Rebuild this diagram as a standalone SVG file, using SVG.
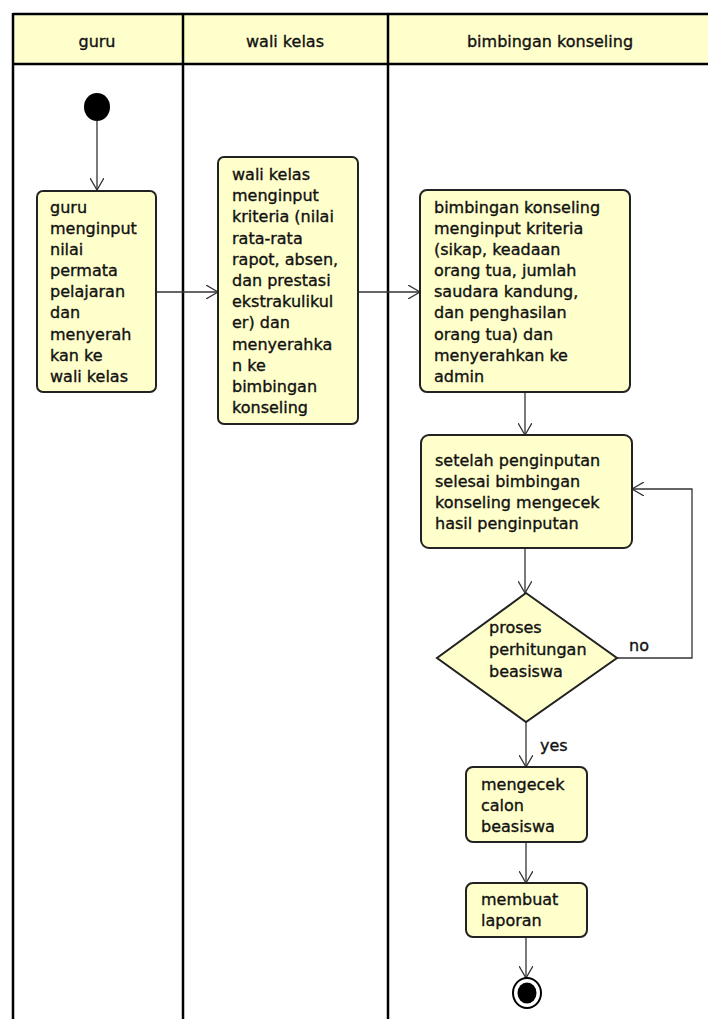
<svg xmlns="http://www.w3.org/2000/svg" width="708" height="1019" viewBox="0 0 708 1019">
  <style>
    text { font-family: "DejaVu Sans", "Liberation Sans", sans-serif; font-size: 16px; fill: #111; stroke: #111; stroke-width: 0.35; }
    .hdr { text-anchor: middle; }
    .lane { stroke: #000; stroke-width: 2.5; fill: none; }
    .act { fill: #FFFFCC; stroke: #222; stroke-width: 2; }
    .flow { stroke: #333; stroke-width: 1.3; fill: none; marker-end: url(#open); }
  </style>
  <defs>
    <marker id="open" markerUnits="userSpaceOnUse" viewBox="0 0 12 14" refX="12" refY="7" markerWidth="12" markerHeight="14" orient="auto">
      <path d="M0,0 L12,7 L0,14" fill="none" stroke="#333" stroke-width="1.3"/>
    </marker>
  </defs>

  <rect width="708" height="1019" fill="#fff"/>

  <!-- swimlane header and lane separators -->
  <g id="lanes">
    <rect x="13" y="14" width="700" height="50" fill="#FFFFCC"/>
    <line class="lane" x1="13" y1="14" x2="708" y2="14"/>
    <line class="lane" x1="13" y1="64" x2="708" y2="64"/>
    <line class="lane" x1="13" y1="13" x2="13" y2="1019"/>
    <line class="lane" x1="183" y1="13" x2="183" y2="1019"/>
    <line class="lane" x1="388" y1="13" x2="388" y2="1019"/>
    <text class="hdr" x="97" y="47">guru</text>
    <text class="hdr" x="285" y="47">wali kelas</text>
    <text class="hdr" x="550" y="47">bimbingan konseling</text>
  </g>

  <!-- control flow -->
  <g id="connectors">
    <path class="flow" d="M97,121 L97,190"/>
    <path class="flow" d="M156,292 L218,292"/>
    <path class="flow" d="M358,292 L420,292"/>
    <path class="flow" d="M525,392 L525,435"/>
    <path class="flow" d="M525,548 L525,593"/>
    <path class="flow" d="M617,658 L692,658 L692,489 L632,489"/>
    <path class="flow" d="M526,722 L526,767"/>
    <path class="flow" d="M526,842 L526,883"/>
    <path class="flow" d="M526,937 L526,978"/>
    <text x="629" y="651">no</text>
    <text x="540" y="751">yes</text>
  </g>

  <g id="start">
    <ellipse cx="97" cy="107" rx="13" ry="14" fill="#000"/>
  </g>

  <g id="guru-input">
    <rect class="act" x="37" y="191" width="119" height="201" rx="6"/>
    <text x="50">
      <tspan x="50" y="213">guru</tspan>
      <tspan x="50" y="234">menginput</tspan>
      <tspan x="50" y="255">nilai</tspan>
      <tspan x="50" y="276">permata</tspan>
      <tspan x="50" y="297">pelajaran</tspan>
      <tspan x="50" y="318">dan</tspan>
      <tspan x="50" y="340">menyerah</tspan>
      <tspan x="50" y="361">kan ke</tspan>
      <tspan x="50" y="382">wali kelas</tspan>
    </text>
  </g>

  <g id="wali-input">
    <rect class="act" x="218" y="157" width="140" height="267" rx="6"/>
    <text>
      <tspan x="232" y="180">wali kelas</tspan>
      <tspan x="232" y="201">menginput</tspan>
      <tspan x="232" y="222">kriteria (nilai</tspan>
      <tspan x="232" y="244">rata-rata</tspan>
      <tspan x="232" y="265">rapot, absen,</tspan>
      <tspan x="232" y="286">dan prestasi</tspan>
      <tspan x="232" y="307">ekstrakulikul</tspan>
      <tspan x="232" y="328">er) dan</tspan>
      <tspan x="232" y="350">menyerahka</tspan>
      <tspan x="232" y="371">n ke</tspan>
      <tspan x="232" y="392">bimbingan</tspan>
      <tspan x="232" y="413">konseling</tspan>
    </text>
  </g>

  <g id="bk-input">
    <rect class="act" x="420" y="190" width="210" height="202" rx="7"/>
    <text>
      <tspan x="434" y="213">bimbingan konseling</tspan>
      <tspan x="434" y="234">menginput kriteria</tspan>
      <tspan x="434" y="255">(sikap, keadaan</tspan>
      <tspan x="434" y="276">orang tua, jumlah</tspan>
      <tspan x="434" y="297">saudara kandung,</tspan>
      <tspan x="434" y="318">dan penghasilan</tspan>
      <tspan x="434" y="340">orang tua) dan</tspan>
      <tspan x="434" y="361">menyerahkan ke</tspan>
      <tspan x="434" y="382">admin</tspan>
    </text>
  </g>

  <g id="bk-check">
    <rect class="act" x="421" y="435" width="211" height="113" rx="8"/>
    <text>
      <tspan x="435" y="466">setelah penginputan</tspan>
      <tspan x="435" y="487">selesai bimbingan</tspan>
      <tspan x="435" y="508">konseling mengecek</tspan>
      <tspan x="435" y="529">hasil penginputan</tspan>
    </text>
  </g>

  <g id="decision">
    <polygon class="act" points="526,593 617,658 526,722 437,658"/>
    <text>
      <tspan x="489" y="633">proses</tspan>
      <tspan x="489" y="655">perhitungan</tspan>
      <tspan x="489" y="677">beasiswa</tspan>
    </text>
  </g>

  <g id="check-candidates">
    <rect class="act" x="466" y="767" width="121" height="75" rx="7"/>
    <text>
      <tspan x="481" y="790">mengecek</tspan>
      <tspan x="481" y="811">calon</tspan>
      <tspan x="481" y="832">beasiswa</tspan>
    </text>
  </g>

  <g id="report">
    <rect class="act" x="466" y="883" width="121" height="54" rx="7"/>
    <text>
      <tspan x="481" y="905">membuat</tspan>
      <tspan x="481" y="926">laporan</tspan>
    </text>
  </g>

  <g id="end">
    <ellipse cx="527" cy="993" rx="14" ry="15" fill="#fff" stroke="#000" stroke-width="2"/>
    <ellipse cx="527" cy="993" rx="9.5" ry="10.5" fill="#000"/>
  </g>
</svg>
